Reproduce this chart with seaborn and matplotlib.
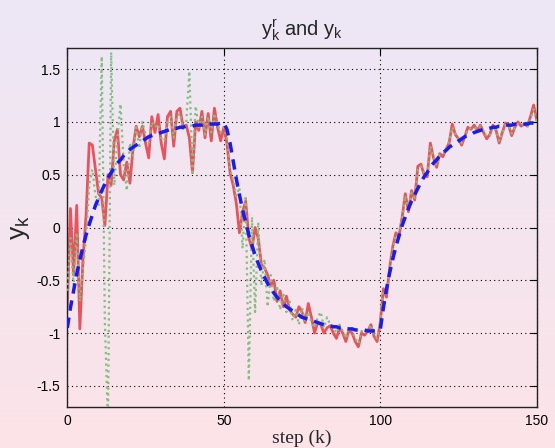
import numpy as np
import pandas as pd
import matplotlib
matplotlib.use("Agg")
import matplotlib.pyplot as plt
import seaborn as sns
from matplotlib.colors import LinearSegmentedColormap

steps = list(range(151))

# reference trajectory y^r_k (blue dashed)
y_ref = [-0.95, -0.76, -0.60, -0.44, -0.31, -0.18, -0.07, 0.03, 0.12, 0.21,
         0.28, 0.35, 0.41, 0.47, 0.52, 0.57, 0.61, 0.64, 0.68, 0.71,
         0.74, 0.76, 0.78, 0.80, 0.82, 0.84, 0.86, 0.87, 0.88, 0.89,
         0.90, 0.91, 0.92, 0.93, 0.94, 0.94, 0.95, 0.95, 0.96, 0.96,
         0.96, 0.97, 0.97, 0.97, 0.98, 0.98, 0.98, 0.98, 0.98, 0.99,
         0.99, 0.93, 0.80, 0.63, 0.46, 0.31, 0.17, 0.05, -0.07, -0.17,
         -0.26, -0.34, -0.41, -0.47, -0.53, -0.58, -0.62, -0.66, -0.69, -0.72,
         -0.75, -0.77, -0.79, -0.81, -0.83, -0.85, -0.86, -0.87, -0.88, -0.89,
         -0.90, -0.91, -0.92, -0.93, -0.93, -0.94, -0.94, -0.95, -0.95, -0.96,
         -0.96, -0.96, -0.97, -0.97, -0.97, -0.97, -0.98, -0.98, -0.98, -0.98,
         -0.97, -0.76, -0.58, -0.43, -0.30, -0.18, -0.08, 0.02, 0.10, 0.18,
         0.25, 0.31, 0.37, 0.43, 0.48, 0.52, 0.57, 0.61, 0.64, 0.68,
         0.71, 0.73, 0.76, 0.78, 0.80, 0.82, 0.84, 0.86, 0.87, 0.88,
         0.90, 0.91, 0.92, 0.93, 0.93, 0.94, 0.95, 0.95, 0.96, 0.96,
         0.97, 0.97, 0.97, 0.98, 0.98, 0.98, 0.98, 0.98, 0.99, 0.99,
         0.99]

# output y_k (red solid)
y_out = [-0.75, 0.18, -0.45, 0.21, -0.96, -0.30, 0.12, 0.80, 0.78, 0.55,
         0.32, 0.28, 0.02, 0.50, 0.40, 0.82, 0.93, 0.50, 0.45, 0.62,
         0.42, 0.75, 0.96, 0.86, 0.96, 0.80, 0.66, 1.05, 0.90, 1.07,
         0.80, 0.65, 1.05, 1.10, 0.77, 1.10, 1.13, 0.95, 0.97, 0.85,
         0.52, 1.00, 0.92, 1.10, 0.85, 1.08, 0.82, 1.13, 0.95, 0.82,
         0.95, 0.80, 0.52, 0.40, 0.23, -0.05, 0.15, 0.25, -0.10, -0.20,
         0.00, -0.10, -0.35, -0.38, -0.45, -0.55, -0.50, -0.70, -0.60, -0.75,
         -0.65, -0.78, -0.82, -0.85, -0.75, -0.80, -0.90, -0.72, -0.85, -1.00,
         -0.90, -0.92, -1.00, -0.95, -0.93, -1.00, -1.05, -0.95, -1.00, -1.08,
         -0.97, -1.00, -1.08, -1.13, -1.00, -1.02, -0.98, -0.92, -1.03, -1.08,
         -0.90, -0.58, -0.66, -0.38, -0.18, -0.05, -0.08, 0.10, 0.32, 0.15,
         0.35, 0.26, 0.58, 0.60, 0.50, 0.48, 0.80, 0.66, 0.57, 0.70,
         0.67, 0.74, 0.80, 0.98, 0.88, 0.84, 0.78, 0.86, 0.95, 0.93,
         0.97, 0.92, 0.97, 0.90, 0.84, 0.88, 0.97, 0.92, 0.80, 0.90,
         0.99, 0.97, 0.87, 0.95, 1.00, 0.96, 0.98, 0.96, 1.05, 1.16,
         1.02]

# measured signal (green dotted)
y_meas = [-0.60, -0.10, -0.55, -0.05, -0.70, -0.40, -0.10, 0.40, 0.55, 0.30,
          0.20, 1.62, -0.90, -1.85, 1.66, 0.40, 0.85, 1.17, 0.60, 0.35,
          0.80, 0.68, 0.95, 0.75, 1.00, 0.88, 0.80, 1.00, 0.95, 0.98,
          0.85, 0.82, 1.00, 1.05, 0.85, 1.05, 1.08, 0.92, 1.00, 1.48,
          0.50, 1.15, 0.95, 1.05, 0.88, 1.05, 0.90, 1.08, 0.98, 0.90,
          0.95, 0.85, 0.55, 0.45, 0.30, 0.38, -0.20, 0.30, -1.45, 0.10,
          -0.80, 0.05, -0.55, -0.30, -0.75, -0.45, -0.70, -0.55, -0.78, -0.62,
          -0.80, -0.70, -0.88, -0.78, -0.92, -0.76, -0.88, -0.80, -0.90, -0.95,
          -0.85, -0.80, -0.95, -0.85, -0.92, -0.95, -1.00, -0.92, -0.98, -1.05,
          -0.95, -0.98, -1.05, -1.10, -0.98, -1.00, -0.97, -0.92, -1.02, -1.05,
          -0.88, -0.60, -0.63, -0.40, -0.20, -0.07, -0.05, 0.08, 0.30, 0.17,
          0.33, 0.28, 0.55, 0.58, 0.52, 0.50, 0.77, 0.68, 0.59, 0.69,
          0.69, 0.73, 0.82, 0.95, 0.89, 0.83, 0.80, 0.85, 0.93, 0.94,
          0.95, 0.93, 0.96, 0.91, 0.86, 0.87, 0.95, 0.93, 0.82, 0.89,
          0.97, 0.96, 0.89, 0.94, 0.98, 0.97, 0.97, 0.95, 1.03, 1.12,
          1.00]

df = pd.DataFrame({'step': steps, 'ref': y_ref, 'out': y_out, 'meas': y_meas})

sns.set_theme(style='white')
plt.rcParams['font.family'] = ['Liberation Sans', 'DejaVu Sans']
plt.rcParams['mathtext.default'] = 'regular'

fig = plt.figure(figsize=(5.55, 4.48), dpi=100)

# lavender-to-pink background
bg = fig.add_axes([0, 0, 1, 1], zorder=-10)
grad = np.linspace(0, 1, 256).reshape(-1, 1)
cmap = LinearSegmentedColormap.from_list('bg', ['#ede7f6', '#fce3e8'])
bg.imshow(grad, aspect='auto', cmap=cmap, extent=[0, 1, 0, 1])
bg.axis('off')

ax = fig.add_axes([0.1213, 0.0915, 0.8458, 0.8013])
ax.set_facecolor('none')

sns.lineplot(data=df, x='step', y='out', ax=ax, color='#e8545d', linewidth=2.0, zorder=2)
sns.lineplot(data=df, x='step', y='meas', ax=ax, color='#80bf80', linewidth=1.6,
             linestyle=(0, (1, 1.6)), zorder=3)
sns.lineplot(data=df, x='step', y='ref', ax=ax, color='#1c1ce8', linewidth=2.5,
             linestyle=(0, (3, 2)), zorder=4)

ax.set_xlim(0, 150)
ax.set_ylim(-1.7, 1.7)
ax.set_xticks([0, 50, 100, 150])
ax.set_yticks([-1.5, -1, -0.5, 0, 0.5, 1, 1.5])
ax.set_yticklabels(['-1.5', '-1', '-0.5', '0', '0.5', '1', '1.5'])
ax.grid(True, color='black', linestyle=(0, (1, 3)), linewidth=0.8)
ax.tick_params(direction='in', length=5, width=0.8, top=True, right=True,
               labelsize=10, colors='black', pad=5)
for s in ax.spines.values():
    s.set_color('#222222')
    s.set_linewidth(1.0)

ax.set_title(r'$y^r_k$ and $y_k$', fontsize=14.5, pad=9)
ax.set_xlabel('step (k)', family='Liberation Serif', fontsize=14, labelpad=1)
ax.set_ylabel(r'$y_k$', fontsize=19, labelpad=3)

fig.savefig('out.png', dpi=100)
